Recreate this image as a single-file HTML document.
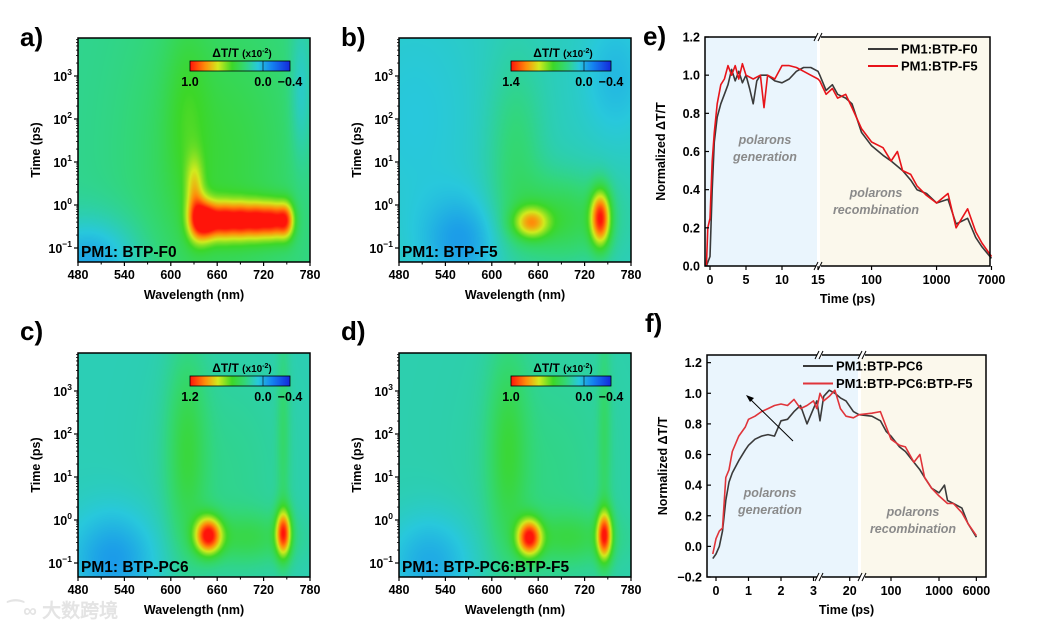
<!DOCTYPE html>
<html><head><meta charset="utf-8">
<style>
html,body{margin:0;padding:0;background:#fff;}
#wrap{position:relative;width:1051px;height:631px;overflow:hidden;font-family:"Liberation Sans",Arial,sans-serif;}
canvas{position:absolute;}
svg{position:absolute;left:0;top:0;}
text{font-family:"Liberation Sans",Arial,sans-serif;font-weight:bold;}
</style></head>
<body>
<div id="wrap">
<canvas id="hmA"></canvas>
<canvas id="hmB"></canvas>
<canvas id="hmC"></canvas>
<canvas id="hmD"></canvas>
<svg id="svg" width="1051" height="631"></svg>
</div>
<script>
// ---------- heatmap data (blobs: wavelength nm, log10 time, amplitude, sigma nm, sigma log t) ----------
const panelNames = ["PM1: BTP-F0","PM1: BTP-F5","PM1: BTP-PC6","PM1: BTP-PC6:BTP-F5"];
const panelLetters = ["a)","b)","c)","d)"];
const cbarMax = ["1.0","1.4","1.2","1.0"];
const baseLevel = [0.42,0.36,0.37,0.38];
const blobsA = [[635,-0.35,0.42,10,0.35],[650,-0.35,0.45,10,0.3],[670,-0.35,0.46,10,0.3],[690,-0.35,0.46,10,0.3],[710,-0.35,0.46,10,0.3],[730,-0.35,0.48,10,0.3],[748,-0.35,0.46,8,0.3],[630,0.4,0.2,8,0.5],[620,2.2,0.08,20,1.6],[660,1,0.12,70,2.5],[495,-1.3,-0.17,45,0.7],[768,2.6,-0.1,10,1.2]];
const blobsB = [[650,-0.4,0.34,16,0.25],[690,-0.3,0.17,45,0.7],[740,-0.3,0.56,9,0.45],[630,1.2,0.1,25,1.5],[560,-0.8,-0.12,35,0.7],[500,2,-0.04,60,2],[760,3,-0.07,30,1]];
const blobsC = [[648,-0.35,0.58,12,0.3],[745,-0.3,0.52,7,0.38],[620,1.6,0.14,18,1.6],[700,-0.4,0.12,40,0.4],[745,2,0.08,6,1.8],[670,1,0.05,60,2],[525,-0.9,-0.14,40,0.8]];
const blobsD = [[648,-0.4,0.56,11,0.3],[745,-0.35,0.53,7,0.4],[620,1.6,0.14,18,1.6],[700,-0.4,0.12,40,0.4],[745,2,0.08,6,1.8],[670,1,0.05,60,2],[520,-1.0,-0.12,40,0.8]];
const wlTicks = [480,540,600,660,720,780];
const logTicks = [-1,0,1,2,3];

// ---------- kinetics data ----------
const eT_black = [-0.5,0,0.3,0.6,1,1.5,2,2.5,3,3.5,4,4.5,5,5.5,6,6.5,7,8,9,10,11,12,13,14,15,16,20,25,30,40,50,70,100,150,200,300,400,500,700,1000,1500,2000,3000,4000,5000,7000];
const eV_black = [0,0.05,0.4,0.65,0.78,0.85,0.9,0.95,1.03,0.97,1.02,0.96,1.0,0.93,0.85,0.97,1.0,1.0,0.97,0.96,0.98,1.02,1.04,1.04,1.02,1.0,0.92,0.95,0.9,0.88,0.85,0.7,0.63,0.58,0.55,0.5,0.45,0.4,0.38,0.33,0.35,0.22,0.25,0.15,0.1,0.04];
const eT_red = [-0.5,-0.3,0,0.3,0.6,1,1.5,2,2.5,3,3.5,4,4.5,5,6,7,7.5,8,9,10,11,12,13,14,15,16,20,25,30,40,50,70,100,150,200,250,300,400,500,700,1000,1500,2000,3000,4000,5000,7000];
const eV_red = [0,0.2,0.25,0.55,0.7,0.85,0.95,0.98,1.05,1.0,1.05,0.98,1.06,1.0,0.98,1.0,0.83,1.0,0.98,1.05,1.05,1.04,1.02,1.0,0.98,0.97,0.9,0.93,0.88,0.9,0.83,0.72,0.65,0.62,0.55,0.6,0.5,0.48,0.42,0.37,0.33,0.38,0.2,0.3,0.18,0.12,0.05];
const eXTicks = [0,5,10,15,100,1000,7000];
const eYTicks = [0,0.2,0.4,0.6,0.8,1.0,1.2];

const fT_black = [-0.1,0,0.1,0.2,0.3,0.4,0.5,0.7,0.9,1.0,1.2,1.4,1.6,1.8,2.0,2.2,2.4,2.6,2.8,3.0,3.1,4,6,9,12,15,18,22,25,40,60,80,100,150,200,300,400,500,700,1000,1300,1500,2000,3000,4000,6000];
const fV_black = [-0.08,-0.05,0,0.1,0.3,0.42,0.48,0.56,0.63,0.66,0.7,0.72,0.73,0.72,0.82,0.83,0.88,0.92,0.8,0.9,0.95,0.82,0.98,1.02,1.0,0.97,0.95,0.88,0.86,0.85,0.82,0.75,0.72,0.65,0.62,0.55,0.5,0.45,0.38,0.35,0.4,0.3,0.28,0.25,0.15,0.06];
const fT_red = [-0.1,0,0.1,0.2,0.3,0.4,0.5,0.7,0.9,1.0,1.2,1.4,1.6,1.8,2.0,2.2,2.4,2.6,2.8,3.0,3.1,4,6,9,12,15,18,22,25,40,60,80,100,150,200,300,400,500,700,1000,1500,2000,3000,4000,6000];
const fV_red = [-0.05,0.05,0.1,0.12,0.45,0.5,0.62,0.72,0.78,0.83,0.85,0.88,0.9,0.92,0.93,0.92,0.96,0.9,0.92,0.95,0.9,1.0,0.95,0.98,1.02,0.9,0.85,0.84,0.86,0.87,0.88,0.78,0.7,0.66,0.65,0.55,0.6,0.45,0.38,0.33,0.28,0.28,0.22,0.15,0.07];
const fXTicks = [0,1,2,3,20,100,1000,6000];
const fYTicks = [-0.2,0,0.2,0.4,0.6,0.8,1.0,1.2];

// ---------- helpers ----------
const NS="http://www.w3.org/2000/svg";
const svg=document.getElementById('svg');
function mk(tag,attrs,parent){const e=document.createElementNS(NS,tag);for(const k in attrs)e.setAttribute(k,attrs[k]);(parent||svg).appendChild(e);return e;}
function txt(x,y,s,size,anchor,fill,extra){const t=mk('text',Object.assign({x:x,y:y,'font-size':size,'text-anchor':anchor||'middle',fill:fill||'#000'},extra||{}));t.textContent=s;return t;}

const stops=[[0,[20,40,220]],[0.18,[20,130,240]],[0.32,[40,200,220]],[0.45,[50,215,120]],[0.58,[60,215,40]],[0.72,[210,235,30]],[0.85,[255,140,10]],[1,[255,20,10]]];
function cmap(v){v=Math.max(0,Math.min(1,v));for(let i=1;i<stops.length;i++){if(v<=stops[i][0]){const a=stops[i-1],b=stops[i];const t=(v-a[0])/(b[0]-a[0]);return a[1].map((c,j)=>Math.round(c+(b[1][j]-c)*t));}}return stops[stops.length-1][1];}

const boxes=[[78,38],[399,38],[78,353],[399,353]];
const BW=232,BH=224;
const allBlobs=[blobsA,blobsB,blobsC,blobsD];
const ids=['hmA','hmB','hmC','hmD'];
for(let p=0;p<4;p++){
  const [bx,by]=boxes[p];
  const cv=document.getElementById(ids[p]);
  cv.width=BW;cv.height=BH;cv.style.left=bx+'px';cv.style.top=by+'px';
  const ctx=cv.getContext('2d');const img=ctx.createImageData(BW,BH);
  for(let j=0;j<BH;j++){
    const logt=(by+210-(by+j))/43-1;
    for(let i=0;i<BW;i++){
      const wl=480+i/BW*300;
      let v=baseLevel[p];
      for(const b of allBlobs[p]){const dx=(wl-b[0])/b[3],dy=(logt-b[1])/b[4];v+=b[2]*Math.exp(-0.5*(dx*dx+dy*dy));}
      const c=cmap(v);const k=(j*BW+i)*4;img.data[k]=c[0];img.data[k+1]=c[1];img.data[k+2]=c[2];img.data[k+3]=255;
    }
  }
  ctx.putImageData(img,0,0);
  const g=mk('g',{});
  
  
  mk('rect',{x:bx,y:by,width:BW,height:BH,fill:'none',stroke:'#000','stroke-width':1.5},g);
  const xs=w=>bx+(w-480)/300*BW;
  const ys=l=>by+210-(l+1)*43;
  wlTicks.forEach(w=>{mk('line',{x1:xs(w),x2:xs(w),y1:by+BH,y2:by+BH+4,stroke:'#000','stroke-width':1.2},g);
    const t=txt(xs(w),by+BH+17,String(w),12.5,'middle','#000');});
  for(let w=510;w<780;w+=60)mk('line',{x1:xs(w),x2:xs(w),y1:by+BH,y2:by+BH+2.5,stroke:'#000'},g);
  logTicks.forEach(l=>{mk('line',{x1:bx-4,x2:bx,y1:ys(l),y2:ys(l),stroke:'#000','stroke-width':1.2},g);
    const t=txt(bx-6,ys(l)+5,'10',12.5,'end','#000');const ts=mk('tspan',{dy:-6,'font-size':8.5},t);ts.textContent=(l<0?'\u2212':'')+Math.abs(l);
    });
  for(let l=-1;l<4;l++)for(let m=2;m<10;m++){const y=ys(l+Math.log10(m));if(y>by&&y<by+BH)mk('line',{x1:bx-2,x2:bx,y1:y,y2:y,stroke:'#000','stroke-width':0.8},g);}
  const yt=txt(bx-38,by+112,'Time (ps)',12.5,'middle','#000',{transform:`rotate(-90 ${bx-38} ${by+112})`});
  
  const xt=txt(bx+BW/2,by+BH+37,'Wavelength (nm)',12.5,'middle','#000');
  
  const nm=txt(bx+3,by+BH-5,panelNames[p],15.5,'start','#000');
  
  const lt2=txt(bx-58,by-(p<2?-8:13),panelLetters[p],26,'start','#000');
  
  const gid='cb'+p;const defs=mk('defs',{},g);const lg=mk('linearGradient',{id:gid,x1:0,x2:1,y1:0,y2:0},defs);
  stops.slice().reverse().forEach(s=>mk('stop',{offset:(1-s[0]),'stop-color':`rgb(${s[1].join(',')})`},lg));
  const cbx=bx+112,cby=by+23;
  const cb=mk('rect',{x:cbx,y:cby,width:100,height:10,fill:`url(#${gid})`,stroke:'#000','stroke-width':0.8},g);
  
  const ct=txt(cbx+52,cby-4,'\u0394T/T ',12,'middle','#000');const ts2=mk('tspan',{'font-size':10},ct);ts2.textContent='(x10';const ts3=mk('tspan',{'font-size':7,dy:-4},ct);ts3.textContent='-2';const ts4=mk('tspan',{'font-size':10,dy:4},ct);ts4.textContent=')';
  
  txt(cbx,cby+25,cbarMax[p],12.5,'middle');txt(cbx+73,cby+25,'0.0',12.5,'middle');txt(cbx+100,cby+25,'\u22120.4',12.5,'middle');
  mk('line',{x1:cbx+73,x2:cbx+73,y1:cby,y2:cby+10,stroke:'#000','stroke-width':0.6},g);
}

// ---------- kinetics panels ----------
function drawKin(cfg){
  const g=mk('g',{});
  
  
  const {L,R,T,B}=cfg;
  const ys=v=>B-(v-cfg.ymin)/(cfg.ymax-cfg.ymin)*(B-T);
  mk('rect',{x:L,y:T,width:cfg.split-L,height:B-T,fill:'#eaf5fd'},g);
  mk('rect',{x:cfg.split+3,y:T,width:R-cfg.split-3,height:B-T,fill:'#fbf8ec'},g);
  txt(cfg.gx,cfg.gy,'polarons',12.5,'middle','#8a8a8a',{'font-style':'italic'});
  txt(cfg.gx,cfg.gy+17,'generation',12.5,'middle','#8a8a8a',{'font-style':'italic'});
  txt(cfg.rx,cfg.ry,'polarons',12.5,'middle','#8a8a8a',{'font-style':'italic'});
  txt(cfg.rx,cfg.ry+17,'recombination',12.5,'middle','#8a8a8a',{'font-style':'italic'});
  cfg.series.forEach(s=>{
    let d='';s.t.forEach((t,i)=>{d+=(i?'L':'M')+cfg.xs(t).toFixed(1)+','+ys(s.v[i]).toFixed(1);});
    const pth=mk('path',{d:d,fill:'none',stroke:s.color,'stroke-width':1.6,'stroke-linejoin':'round'},g);
    
  });
  mk('rect',{x:L,y:T,width:R-L,height:B-T,fill:'none',stroke:'#000','stroke-width':1.5},g);
  cfg.breaks.forEach(bxp=>{mk('rect',{x:bxp-2,y:T-3,width:5,height:6,fill:'#fff'},g);mk('rect',{x:bxp-2,y:B-3,width:5,height:6,fill:'#fff'},g);
    [T,B].forEach(y=>{mk('line',{x1:bxp-4,y1:y+4,x2:bxp,y2:y-4,stroke:'#000'},g);mk('line',{x1:bxp,y1:y+4,x2:bxp+4,y2:y-4,stroke:'#000'},g);});});
  cfg.yticks.forEach(v=>{mk('line',{x1:L,x2:L+4,y1:ys(v),y2:ys(v),stroke:'#000','stroke-width':1.2},g);
    const t=txt(L-5,ys(v)+4.5,(v<0?'\u2212':'')+Math.abs(v).toFixed(1),12.5,'end');});
  cfg.xticks.forEach(v=>{const x=cfg.xs(v);mk('line',{x1:x,x2:x,y1:B,y2:B+4,stroke:'#000','stroke-width':1.2},g);
    const t=txt(x,B+18,String(v),12.5,'middle');});
  const xt=txt((L+R)/2,B+37,'Time (ps)',12.5,'middle');
  const yx=L-40,yy=(T+B)/2;
  const yt=txt(yx,yy,'Normalized \u0394T/T',12.5,'middle','#000',{transform:`rotate(-90 ${yx} ${yy})`});
  cfg.series.forEach((s,i)=>{const ly=cfg.legY+i*cfg.legDY;
    mk('line',{x1:cfg.legX,x2:cfg.legX+30,y1:ly,y2:ly,stroke:s.color,'stroke-width':2},g);
    const t=txt(cfg.legX+33,ly+4.5,s.label,13,'start');});
  const lt=txt(L-62,cfg.letterY,cfg.letter,26,'start');
  return {g,ys};
}
const eXs=t=>t<=15?710+t*7.2:818+65*Math.log10(t/15);
drawKin({name:'panel-e',L:705,R:990,T:37,B:266,ymin:0,ymax:1.2,split:817,xs:eXs,breaks:[818],
  yticks:eYTicks,xticks:eXTicks,gx:765,gy:144,rx:876,ry:197,legX:868,legY:49,legDY:17,letter:'e)',letterY:45,
  series:[{t:eT_black,v:eV_black,color:'#3a3a3a',name:'line-pm1-btp-f0',label:'PM1:BTP-F0'},{t:eT_red,v:eV_red,color:'#e8141a',name:'line-pm1-btp-f5',label:'PM1:BTP-F5'}]});
const fXs=t=>t<=3.15?716+t*32.5:(t<=25?820+(t-4)/21*39:891+48*Math.log10(t/100));
drawKin({name:'panel-f',L:707,R:986,T:355,B:577,ymin:-0.2,ymax:1.25,split:858,xs:fXs,breaks:[819,862],
  yticks:fYTicks,xticks:fXTicks,gx:770,gy:497,rx:913,ry:516,legX:803,legY:366,legDY:17.5,letter:'f)',letterY:332,
  series:[{t:fT_black,v:fV_black,color:'#3a3a3a',name:'line-pm1-btp-pc6',label:'PM1:BTP-PC6'},{t:fT_red,v:fV_red,color:'#e0343a',name:'line-pm1-btp-pc6-btp-f5',label:'PM1:BTP-PC6:BTP-F5'}]});
const arr=mk('line',{x1:793,y1:441,x2:748,y2:397,stroke:'#000','stroke-width':1});


mk('polygon',{points:'746,395 754,398 750,402',fill:'#000'});
const wm=txt(8,617,'\u2040\u221e \u5927\u6570\u8de8\u5883',19,'start','#e4e4e4',{'font-family':'"Liberation Sans","Noto Sans CJK SC",sans-serif'});


</script>
</body></html>
